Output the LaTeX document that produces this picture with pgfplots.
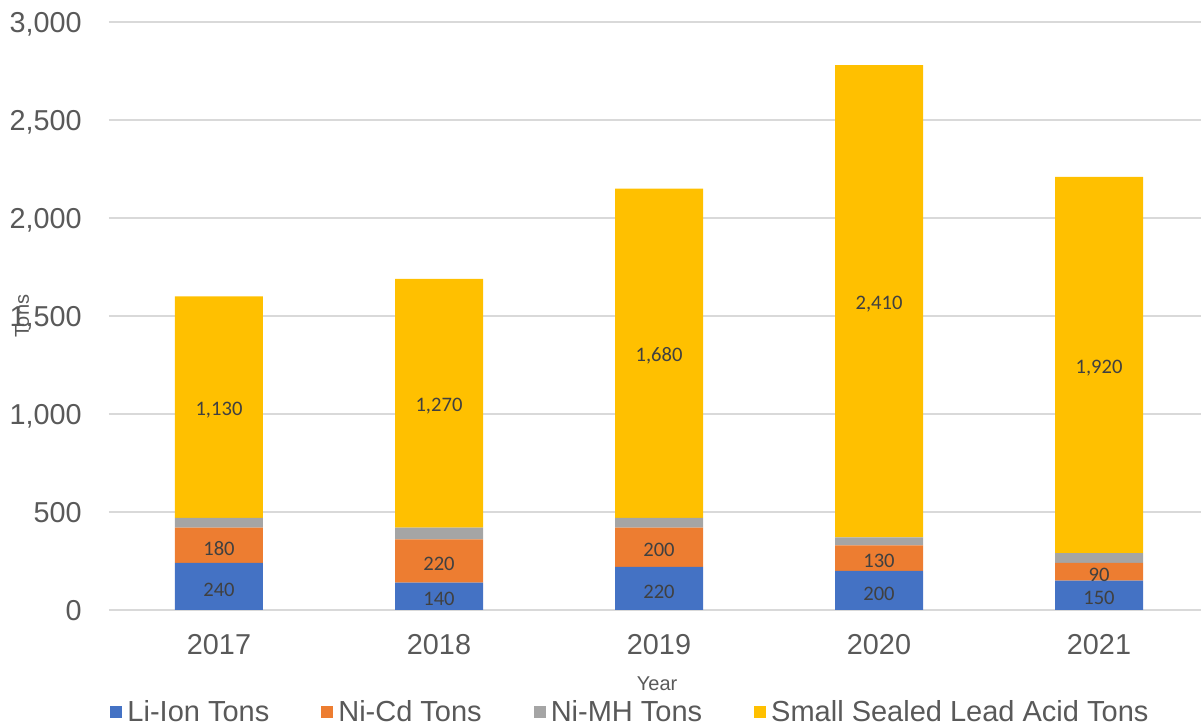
\documentclass[border=0pt]{standalone}
\usepackage{pgfplots}
\pgfplotsset{compat=1.18}
\usepackage{fontspec}
\setmainfont{Liberation Sans}
\newfontfamily\carlito{Carlito}
\definecolor{cLi}{HTML}{4472C4}
\definecolor{cNiCd}{HTML}{ED7D31}
\definecolor{cNiMH}{HTML}{A5A5A5}
\definecolor{cSSLA}{HTML}{FFC000}
\definecolor{txtgrey}{HTML}{595959}
\definecolor{gridgrey}{HTML}{D9D9D9}
\definecolor{lblgrey}{HTML}{404040}
\begin{document}
\begin{tikzpicture}
\path[use as bounding box] (-54.5pt,-59pt) rectangle (546pt,305pt);
\begin{axis}[
  at={(0pt,0pt)}, anchor=south west,
  scale only axis, width=546pt, height=294pt,
  ybar stacked, bar width=44pt,
  xmin=-0.5, xmax=4.4636, ymin=0, ymax=3000,
  xtick={0,1,2,3,4}, xticklabels={2017,2018,2019,2020,2021},
  ytick={0,500,1000,1500,2000,2500,3000},
  ymajorgrids, grid style={gridgrey, line width=0.65pt},
  axis line style={draw=none},
  major tick length=0pt,
  tick style={draw=none},
  ticklabel style={font=\fontsize{14.4}{16}\selectfont, text=txtgrey},
  yticklabel style={anchor=east, inner sep=0pt, xshift=-13.5pt, text depth=0pt},
  xticklabel style={anchor=north, inner sep=0pt, yshift=-12pt},
  /pgf/number format/1000 sep={,},
  /pgf/number format/assume math mode=true,
  xlabel={Year},
  xlabel style={at={(axis description cs:0.502,-0.126)}, anchor=center, font=\fontsize{10}{12}\selectfont, text=txtgrey},
  ylabel={Tons},
  ylabel style={at={(axis description cs:-0.0797,0.5)}, anchor=center, font=\fontsize{10}{12}\selectfont, text=txtgrey},
  legend style={at={(0.478,-0.1735)}, anchor=center, draw=none, fill=none,
    font=\fontsize{14.5}{16}\selectfont, text=txtgrey, legend columns=4,
    nodes={inner sep=1.5pt},
    /tikz/every odd column/.append style={column sep=1pt},
    /tikz/every even column/.append style={column sep=24.5pt}},
]
\addplot[fill=cLi, draw=none, legend image code/.code={\fill[cLi] (0pt,-3pt) rectangle (6pt,3pt);}]
  coordinates {(0,240) (1,140) (2,220) (3,200) (4,150)};
\addplot[fill=cNiCd, draw=none, legend image code/.code={\fill[cNiCd] (0pt,-3pt) rectangle (6pt,3pt);}]
  coordinates {(0,180) (1,220) (2,200) (3,130) (4,90)};
\addplot[fill=cNiMH, draw=none, legend image code/.code={\fill[cNiMH] (0pt,-3pt) rectangle (6pt,3pt);}]
  coordinates {(0,50) (1,60) (2,50) (3,40) (4,50)};
\addplot[fill=cSSLA, draw=none, legend image code/.code={\fill[cSSLA] (0pt,-3pt) rectangle (6pt,3pt);}]
  coordinates {(0,1130) (1,1270) (2,1680) (3,2410) (4,1920)};
\legend{Li-Ion Tons, Ni-Cd Tons, Ni-MH Tons, Small Sealed Lead Acid Tons}
\end{axis}
\begin{axis}[
  at={(0pt,0pt)}, anchor=south west,
  scale only axis, width=546pt, height=294pt,
  xmin=-0.5, xmax=4.4636, ymin=0, ymax=3000,
  hide axis, clip=false,
  nodes near coords, point meta=explicit symbolic,
  every node near coord/.style={anchor=center, font=\carlito\fontsize{10.3}{12}\selectfont, text=lblgrey, inner sep=0pt, yshift=-1.5pt},
]
\addplot[draw=none] coordinates {(0,120)[240] (1,70)[140] (2,110)[220] (3,100)[200] (4,75)[150]};
\addplot[draw=none] coordinates {(0,330)[180] (1,250)[220] (2,320)[200] (3,265)[130] (4,195)[90]};
\addplot[draw=none] coordinates {(0,1035)[{1,130}] (1,1055)[{1,270}] (2,1310)[{1,680}] (3,1575)[{2,410}] (4,1250)[{1,920}]};
\end{axis}
\end{tikzpicture}
\end{document}
